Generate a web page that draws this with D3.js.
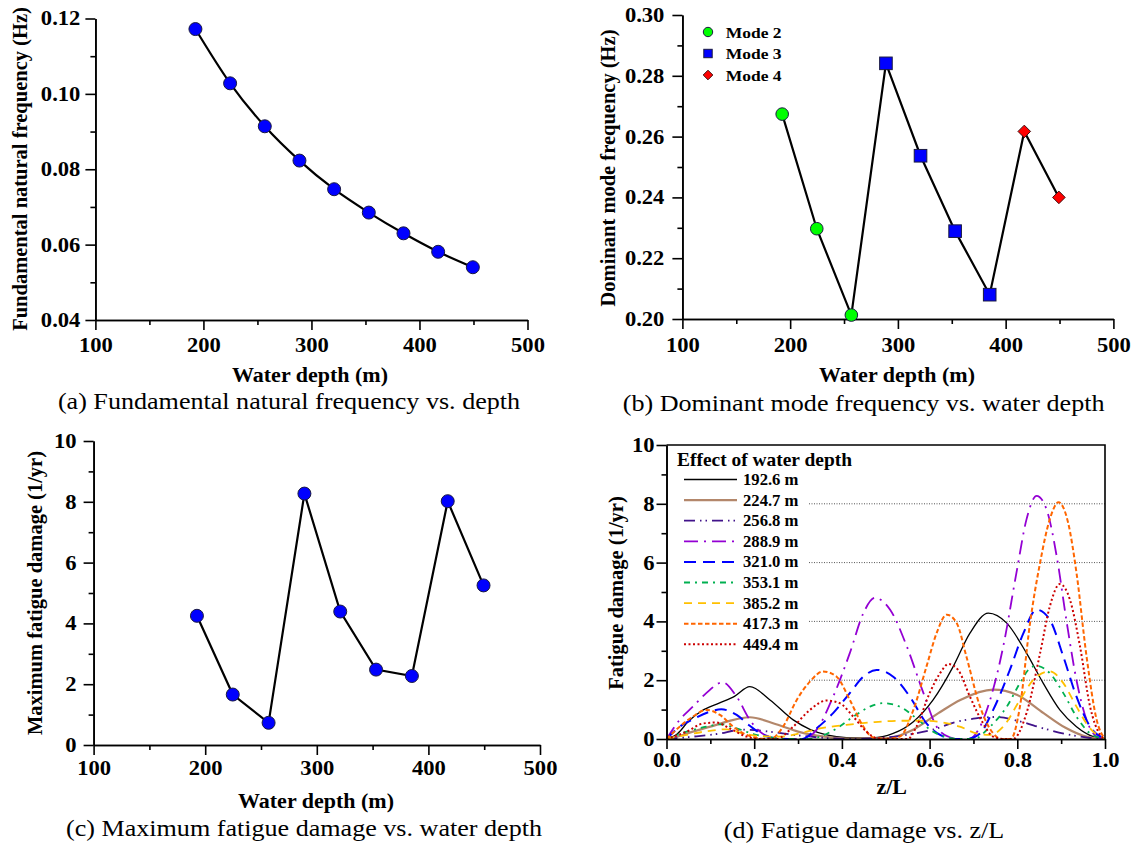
<!DOCTYPE html>
<html>
<head>
<meta charset="utf-8">
<script src="https://cdn.jsdelivr.net/npm/d3@7/dist/d3.min.js"></script>
<style>
body { margin: 0; background: #fff; }
svg text { font-family: "Liberation Serif", "Times New Roman", serif; }
</style>
</head>
<body>
<svg id="chart" width="1135" height="848"></svg>
<script>
// ---- data ----
var depths = [192.6, 224.7, 256.8, 288.9, 321.0, 353.1, 385.2, 417.3, 449.4];
var natFreq = [0.1172, 0.1028, 0.0914, 0.0823, 0.0747, 0.0685, 0.0630, 0.0581, 0.0540];
var domFreq = [0.2674, 0.2297, 0.2013, 0.2841, 0.2537, 0.2289, 0.2080, 0.2617, 0.2400];
var domMode = [2, 2, 2, 3, 3, 3, 3, 4, 4];
var maxDamage = [4.25, 1.66, 0.73, 8.27, 4.39, 2.48, 2.27, 8.02, 5.25];

var depthTicks = [100, 200, 300, 400, 500];
var depthMinor = [150, 250, 350, 450];
var natTicks = [0.04, 0.06, 0.08, 0.10, 0.12];
var natMinor = [0.05, 0.07, 0.09, 0.11];
var domTicks = [0.20, 0.22, 0.24, 0.26, 0.28, 0.30];
var domMinor = [0.21, 0.23, 0.25, 0.27, 0.29];
var dmgTicks = [0, 2, 4, 6, 8, 10];
var dmgMinor = [1, 3, 5, 7, 9];
var zTicks = [0, 0.2, 0.4, 0.6, 0.8, 1.0];
var zMinor = [0.1, 0.3, 0.5, 0.7, 0.9];
var gridLevels = [2, 4, 6, 8];
var modeNames = ['Mode 2', 'Mode 3', 'Mode 4'];

// fatigue damage along z/L for each water depth, [z/L, damage]
var dmg1926 = [[0,0],[0.025,0.18],[0.05,0.6],[0.08,0.95],[0.12,1.22],[0.155,1.45],[0.19,1.78],[0.236,1.33],[0.289,0.65],[0.327,0.33],[0.365,0.14],[0.41,0.05],[0.47,0.04],[0.517,0.19],[0.563,0.59],[0.608,1.33],[0.654,2.47],[0.692,3.6],[0.734,4.28],[0.776,3.94],[0.821,2.92],[0.859,1.9],[0.897,0.99],[0.935,0.42],[0.973,0.08],[1,0]];
var dmg2247 = [[0,0],[0.03,0.1],[0.06,0.25],[0.1,0.42],[0.14,0.6],[0.19,0.74],[0.25,0.5],[0.3,0.25],[0.36,0.08],[0.42,0.01],[0.5,0.02],[0.56,0.3],[0.62,0.88],[0.67,1.33],[0.745,1.68],[0.8,1.5],[0.86,0.88],[0.91,0.38],[0.96,0.07],[1,0]];
var dmg2568 = [[0,0],[0.06,0.08],[0.115,0.17],[0.175,0.32],[0.235,0.25],[0.29,0.14],[0.35,0.05],[0.42,0],[0.5,0.05],[0.56,0.17],[0.61,0.33],[0.655,0.56],[0.705,0.7],[0.753,0.75],[0.805,0.6],[0.86,0.36],[0.91,0.17],[0.96,0.05],[1,0]];
var dmg2889 = [[0,0],[0.03,0.65],[0.06,1.1],[0.09,1.55],[0.128,1.93],[0.16,1.44],[0.19,0.65],[0.213,0.25],[0.243,0.05],[0.27,0],[0.31,0],[0.342,0.31],[0.38,1.44],[0.418,2.92],[0.449,4.28],[0.475,4.8],[0.51,4.4],[0.548,3.15],[0.586,1.56],[0.616,0.42],[0.646,0.06],[0.67,0],[0.69,0],[0.715,0.42],[0.738,1.33],[0.768,3.15],[0.798,5.65],[0.821,7.47],[0.844,8.27],[0.867,7.8],[0.89,6.2],[0.913,3.94],[0.935,2.0],[0.958,0.65],[0.981,0.08],[1,0]];
var dmg3210 = [[0,0],[0.03,0.42],[0.06,0.67],[0.099,0.93],[0.125,1.01],[0.16,0.82],[0.19,0.45],[0.22,0.14],[0.25,0.02],[0.29,0],[0.31,0],[0.342,0.36],[0.38,0.88],[0.418,1.56],[0.449,2.12],[0.479,2.35],[0.517,2.12],[0.555,1.44],[0.593,0.53],[0.624,0.14],[0.65,0],[0.685,0],[0.715,0.19],[0.745,0.99],[0.783,2.35],[0.814,3.6],[0.844,4.4],[0.874,4.06],[0.905,2.8],[0.935,1.44],[0.966,0.42],[1,0]];
var dmg3531 = [[0,0],[0.046,0.25],[0.091,0.42],[0.122,0.5],[0.16,0.36],[0.198,0.17],[0.236,0.06],[0.28,0],[0.33,0],[0.35,0.08],[0.388,0.36],[0.426,0.76],[0.464,1.1],[0.494,1.22],[0.532,1.1],[0.57,0.7],[0.608,0.25],[0.639,0.06],[0.67,0],[0.7,0],[0.738,0.42],[0.776,1.1],[0.806,1.9],[0.829,2.41],[0.844,2.49],[0.874,2.24],[0.905,1.56],[0.935,0.76],[0.966,0.19],[1,0]];
var dmg3852 = [[0,0],[0.046,0.14],[0.099,0.28],[0.137,0.33],[0.175,0.19],[0.213,0.1],[0.259,0.08],[0.304,0.19],[0.35,0.36],[0.41,0.48],[0.47,0.57],[0.532,0.62],[0.586,0.62],[0.631,0.56],[0.669,0.42],[0.707,0.19],[0.738,0.14],[0.768,0.42],[0.806,1.33],[0.836,2.0],[0.874,2.3],[0.905,1.9],[0.935,1.1],[0.966,0.36],[1,0]];
var dmg4173 = [[0,0],[0.03,0.42],[0.06,0.76],[0.091,0.99],[0.122,0.82],[0.152,0.42],[0.183,0.14],[0.213,0.02],[0.236,0],[0.266,0.42],[0.297,1.33],[0.327,1.95],[0.357,2.3],[0.388,2.12],[0.418,1.33],[0.449,0.42],[0.47,0.06],[0.5,0],[0.532,0.08],[0.563,0.99],[0.593,2.47],[0.616,3.6],[0.639,4.23],[0.662,3.94],[0.684,2.8],[0.715,1.1],[0.745,0.19],[0.765,0],[0.785,0],[0.806,1.1],[0.829,3.94],[0.852,6.0],[0.874,7.47],[0.894,8.05],[0.916,7.35],[0.935,5.65],[0.958,2.8],[0.981,0.65],[1,0]];
var dmg4494 = [[0,0],[0.046,0.25],[0.084,0.53],[0.114,0.56],[0.144,0.36],[0.183,0.08],[0.21,0],[0.25,0],[0.289,0.42],[0.327,0.99],[0.365,1.31],[0.395,1.22],[0.426,0.76],[0.456,0.25],[0.479,0.03],[0.52,0],[0.55,0],[0.57,0.42],[0.6,1.56],[0.624,2.24],[0.643,2.55],[0.665,2.35],[0.692,1.44],[0.722,0.53],[0.745,0.08],[0.77,0],[0.79,0],[0.821,0.88],[0.852,2.92],[0.874,4.5],[0.897,5.27],[0.92,4.74],[0.943,3.15],[0.966,1.1],[0.989,0.14],[1,0]];

var seriesLabels = ['192.6 m', '224.7 m', '256.8 m', '288.9 m', '321.0 m', '353.1 m', '385.2 m', '417.3 m', '449.4 m'];
var seriesData = [dmg1926, dmg2247, dmg2568, dmg2889, dmg3210, dmg3531, dmg3852, dmg4173, dmg4494];

// ---- styles ----
var seriesStyle = [
    {color: '#000000', width: 1.3, dash: null},
    {color: '#b3876b', width: 2.2, dash: null},
    {color: '#41138a', width: 1.8, dash: '11,5,1.5,4,1.5,5'},
    {color: '#9400d3', width: 1.8, dash: '14,6,2,6'},
    {color: '#0000ff', width: 2, dash: '12,7'},
    {color: '#00b050', width: 1.8, dash: '6,5,2,5'},
    {color: '#ffc000', width: 1.8, dash: '8,6'},
    {color: '#ff6600', width: 2, dash: '4.5,2.5'},
    {color: '#cc0000', width: 2, dash: '2,2.5'}
];
var modeStyle = {2: {fill: '#00ff00', shape: 'circle'}, 3: {fill: '#0000ff', shape: 'square'}, 4: {fill: '#ff0000', shape: 'diamond'}};

// the source figure is a little wider than tall, text is stretched sideways
var SX_TICK = 1.13, SX_TITLE = 1.1, SX_CAP = 1.16;

var svg = d3.select('#chart');
svg.append('rect').attr('width', 1135).attr('height', 848).attr('fill', '#fff');

var fmt2 = d3.format('.2f');
var fmt1 = d3.format('.1f');
var fmt0 = d3.format('d');

function stretch(sel, sx) {
    sel.each(function() {
        var t = d3.select(this);
        var x0 = +t.attr('x') || 0;
        t.attr('x', x0 / sx).attr('transform', 'scale(' + sx + ',1)');
    });
}

function addAxes(xs, ys, xt, xm, yt, ym, xf, yf, xpad, ypad) {
    var yBase = ys.range()[0];
    var xBase = xs.range()[0];
    var gx = svg.append('g').attr('transform', 'translate(0,' + yBase + ')');
    gx.call(d3.axisBottom(xs).tickValues(xm).tickSize(5).tickSizeOuter(0).tickFormat(''));
    gx.append('g').call(d3.axisBottom(xs).tickValues(xt).tickSize(10).tickSizeOuter(0).tickPadding(xpad).tickFormat(xf));
    var gy = svg.append('g').attr('transform', 'translate(' + xBase + ',0)');
    gy.call(d3.axisLeft(ys).tickValues(ym).tickSize(5).tickSizeOuter(0).tickFormat(''));
    gy.append('g').call(d3.axisLeft(ys).tickValues(yt).tickSize(10).tickSizeOuter(0).tickPadding(ypad).tickFormat(yf));
    [gx, gy].forEach(function(g) {
        g.selectAll('path, line').attr('stroke', '#000').attr('stroke-width', 1.6);
        g.selectAll('text')
            .attr('font-family', '"Liberation Serif", serif')
            .attr('font-size', 20)
            .attr('font-weight', 'bold')
            .attr('fill', '#000');
        stretch(g.selectAll('text'), SX_TICK);
    });
}

function addText(x, y, txt, size, bold, sx) {
    return svg.append('text')
        .attr('text-anchor', 'middle')
        .attr('font-size', size)
        .attr('font-weight', bold ? 'bold' : 'normal')
        .attr('fill', '#000')
        .attr('transform', 'translate(' + x + ',' + y + ') scale(' + sx + ',1)')
        .text(txt);
}

function addYTitle(x, y, txt) {
    return svg.append('text')
        .attr('text-anchor', 'middle')
        .attr('font-size', 20.5)
        .attr('font-weight', 'bold')
        .attr('fill', '#000')
        .attr('dy', '0.35em')
        .attr('transform', 'translate(' + x + ',' + y + ') rotate(-90)')
        .text(txt);
}

function marker(g, shape, x, y, s, fill) {
    if (shape === 'circle') {
        g.append('circle').attr('cx', x).attr('cy', y).attr('r', s)
            .attr('fill', fill).attr('stroke', '#1a1a40').attr('stroke-width', 1);
    } else if (shape === 'square') {
        g.append('rect').attr('x', x - s).attr('y', y - s).attr('width', 2 * s).attr('height', 2 * s)
            .attr('fill', fill).attr('stroke', '#1a1a40').attr('stroke-width', 1);
    } else {
        g.append('path').attr('d', 'M' + x + ',' + (y - s) + 'L' + (x + s) + ',' + y + 'L' + x + ',' + (y + s) + 'L' + (x - s) + ',' + y + 'Z')
            .attr('fill', fill).attr('stroke', '#401010').attr('stroke-width', 1);
    }
}

// ---- (a) fundamental natural frequency ----
var xa = d3.scaleLinear().domain([100, 500]).range([95.4, 527.5]);
var ya = d3.scaleLinear().domain([0.04, 0.12]).range([320, 18.5]);
addAxes(xa, ya, depthTicks, depthMinor, natTicks, natMinor, fmt0, fmt2, 8, 5);
var ptsA = depths.map(function(d, i) { return [d, natFreq[i]]; });
svg.append('path')
    .attr('d', d3.line().x(function(d) { return xa(d[0]); }).y(function(d) { return ya(d[1]); }).curve(d3.curveMonotoneX)(ptsA))
    .attr('fill', 'none').attr('stroke', '#000').attr('stroke-width', 2.2);
var gA = svg.append('g');
ptsA.forEach(function(p) { marker(gA, 'circle', xa(p[0]), ya(p[1]), 6.5, '#0000ff'); });
addText(310, 382, 'Water depth (m)', 20, true, SX_TITLE);
addYTitle(20, 169, 'Fundamental natural frequency (Hz)');
addText(289, 409, '(a) Fundamental natural frequency vs. depth', 22.5, false, SX_CAP);

// ---- (b) dominant mode frequency ----
var xb = d3.scaleLinear().domain([100, 500]).range([682.4, 1113.4]);
var yb = d3.scaleLinear().domain([0.20, 0.30]).range([319, 15]);
addAxes(xb, yb, depthTicks, depthMinor, domTicks, domMinor, fmt0, fmt2, 9, 8);
var ptsB = depths.map(function(d, i) { return [d, domFreq[i], domMode[i]]; });
svg.append('path')
    .attr('d', d3.line().x(function(d) { return xb(d[0]); }).y(function(d) { return yb(d[1]); })(ptsB))
    .attr('fill', 'none').attr('stroke', '#000').attr('stroke-width', 2.2);
var gB = svg.append('g');
ptsB.forEach(function(p) {
    var st = modeStyle[p[2]];
    marker(gB, st.shape, xb(p[0]), yb(p[1]), st.shape === 'diamond' ? 6.3 : 6.3, st.fill);
});
var legB = svg.append('g');
modeNames.forEach(function(name, i) {
    var st = modeStyle[i + 2];
    var ly = 32 + i * 21.5;
    marker(legB, st.shape, 708, ly, st.shape === 'circle' ? 4.7 : (st.shape === 'square' ? 4.2 : 4.8), st.fill);
    legB.append('text').attr('x', 0).attr('y', 0).attr('font-size', 15.5).attr('font-weight', 'bold')
        .attr('transform', 'translate(725.7,' + (ly + 5.5) + ') scale(1.13,1)').text(name);
});
addText(897, 382, 'Water depth (m)', 20, true, SX_TITLE);
addYTitle(608, 168, 'Dominant mode frequency (Hz)');
addText(863.6, 411, '(b) Dominant mode frequency vs. water depth', 22.5, false, SX_CAP);

// ---- (c) maximum fatigue damage ----
var xc = d3.scaleLinear().domain([100, 500]).range([93.6, 540]);
var yc = d3.scaleLinear().domain([0, 10]).range([745, 441]);
addAxes(xc, yc, depthTicks, depthMinor, dmgTicks, dmgMinor, fmt0, fmt0, 6, 7);
var ptsC = depths.map(function(d, i) { return [d, maxDamage[i]]; });
svg.append('path')
    .attr('d', d3.line().x(function(d) { return xc(d[0]); }).y(function(d) { return yc(d[1]); })(ptsC))
    .attr('fill', 'none').attr('stroke', '#000').attr('stroke-width', 2.2);
var gC = svg.append('g');
ptsC.forEach(function(p) { marker(gC, 'circle', xc(p[0]), yc(p[1]), 6.5, '#0000ff'); });
addText(316, 808, 'Water depth (m)', 20, true, SX_TITLE);
addYTitle(35, 593, 'Maximum fatigue damage (1/yr)');
addText(304, 836, '(c) Maximum fatigue damage vs. water depth', 22.5, false, SX_CAP);

// ---- (d) fatigue damage vs z/L ----
var xd = d3.scaleLinear().domain([0, 1]).range([666.5, 1105]);
var yd = d3.scaleLinear().domain([0, 10]).range([739, 445]);
svg.selectAll('.grid-d')
    .data(gridLevels)
    .enter().append('line')
    .attr('class', 'grid-d')
    .attr('x1', xd(0.325)).attr('x2', xd(1))
    .attr('y1', function(d) { return yd(d); }).attr('y2', function(d) { return yd(d); })
    .attr('stroke', '#555').attr('stroke-width', 1).attr('stroke-dasharray', '1,1.5');
var lineD = d3.line().x(function(d) { return xd(d[0]); }).y(function(d) { return yd(d[1]); }).curve(d3.curveMonotoneX);
var clipD = svg.append('clipPath').attr('id', 'clip-d');
clipD.append('rect').attr('x', xd(0)).attr('y', yd(10)).attr('width', xd(1) - xd(0)).attr('height', yd(0) - yd(10) + 2);
var gD = svg.append('g').attr('clip-path', 'url(#clip-d)');
seriesData.forEach(function(s, i) {
    var st = seriesStyle[i];
    gD.append('path')
        .attr('d', lineD(s))
        .attr('fill', 'none')
        .attr('stroke', st.color)
        .attr('stroke-width', st.width)
        .attr('stroke-dasharray', st.dash);
});
svg.append('path')
    .attr('d', 'M' + xd(0) + ',' + yd(10) + 'H' + xd(1) + 'V' + yd(0))
    .attr('fill', 'none').attr('stroke', '#000').attr('stroke-width', 1.6);
addAxes(xd, yd, zTicks, zMinor, dmgTicks, dmgMinor, fmt1, fmt0, 4, 2);

var legD = svg.append('g');
legD.append('text').attr('font-size', 18).attr('font-weight', 'bold')
    .attr('transform', 'translate(677,466) scale(1.08,1)').text('Effect of water depth');
seriesLabels.forEach(function(lab, i) {
    var st = seriesStyle[i];
    var ly = 479.5 + i * 20.6;
    legD.append('line').attr('x1', 684).attr('x2', 737).attr('y1', ly).attr('y2', ly)
        .attr('stroke', st.color).attr('stroke-width', st.width).attr('stroke-dasharray', st.dash);
    legD.append('text').attr('font-size', 16).attr('font-weight', 'bold')
        .attr('transform', 'translate(743,' + (ly + 5.5) + ') scale(1.04,1)').text(lab);
});
addText(891.7, 794, 'z/L', 20, true, SX_TITLE);
addYTitle(615.4, 593, 'Fatigue damage (1/yr)');
addText(864, 838, '(d) Fatigue damage vs. z/L', 22.5, false, SX_CAP);
</script>
</body>
</html>
